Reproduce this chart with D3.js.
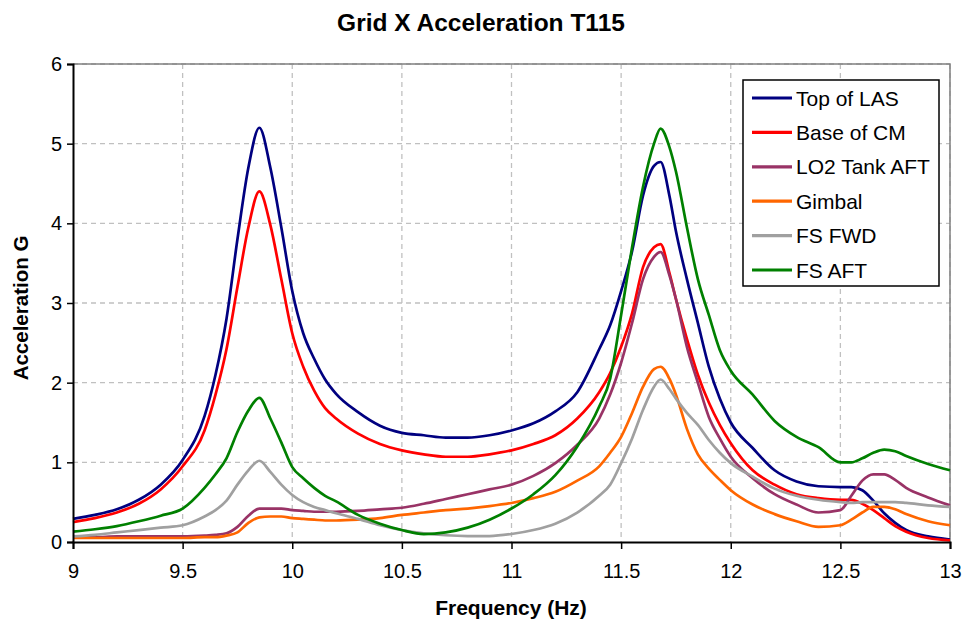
<!DOCTYPE html>
<html>
<head>
<meta charset="utf-8">
<script src="https://cdn.jsdelivr.net/npm/d3@7"></script>
<style>
  body { margin: 0; background: #fff; }
  svg { display: block; font-family: "Liberation Sans", Arial, sans-serif; }
</style>
</head>
<body>
<svg id="svg" width="962" height="622"></svg>
<script>
// frequency samples (Hz), shared by all series
const freq = [9.0, 9.1, 9.2, 9.3, 9.4, 9.5, 9.6, 9.65, 9.7, 9.75, 9.8, 9.85, 9.9, 9.95,
    10.0, 10.05, 10.1, 10.15, 10.2, 10.3, 10.4, 10.5, 10.6, 10.7, 10.8, 10.9,
    11.0, 11.1, 11.2, 11.3, 11.4, 11.45, 11.5, 11.55, 11.6, 11.65, 11.68, 11.72,
    11.75, 11.8, 11.85, 11.9, 11.95, 12.0, 12.1, 12.2, 12.3, 12.4, 12.5, 12.55,
    12.6, 12.65, 12.7, 12.75, 12.8, 12.9, 13.0];

const topOfLAS = [0.29, 0.34, 0.41, 0.53, 0.72, 1.03, 1.58, 2.1, 2.8, 3.8, 4.7, 5.2, 4.7, 3.95,
    3.15, 2.62, 2.3, 2.04, 1.86, 1.63, 1.46, 1.37, 1.34, 1.31, 1.31, 1.34,
    1.40, 1.49, 1.64, 1.88, 2.42, 2.72, 3.15, 3.65, 4.35, 4.72, 4.77, 4.35,
    3.9, 3.3, 2.75, 2.2, 1.8, 1.5, 1.18, 0.9, 0.76, 0.70, 0.69, 0.69,
    0.65, 0.52, 0.36, 0.24, 0.15, 0.07, 0.03];

const baseOfCM = [0.25, 0.30, 0.37, 0.48, 0.66, 0.95, 1.40, 1.85, 2.42, 3.2, 3.95, 4.40, 3.98, 3.3,
    2.62, 2.2, 1.9, 1.68, 1.55, 1.36, 1.23, 1.15, 1.10, 1.07, 1.07, 1.10,
    1.15, 1.23, 1.34, 1.55, 1.88, 2.12, 2.45, 2.87, 3.45, 3.70, 3.74, 3.38,
    3.05, 2.55, 2.1, 1.75, 1.47, 1.24, 0.90, 0.72, 0.60, 0.55, 0.53, 0.53,
    0.48, 0.40, 0.30, 0.20, 0.13, 0.05, 0.02];

const lo2TankAft = [0.06, 0.06, 0.07, 0.07, 0.07, 0.07, 0.08, 0.09, 0.11, 0.19, 0.33, 0.42, 0.42, 0.42,
    0.40, 0.39, 0.38, 0.38, 0.38, 0.39, 0.41, 0.43, 0.48, 0.54, 0.60, 0.66,
    0.72, 0.83, 0.99, 1.22, 1.55, 1.85, 2.25, 2.75, 3.30, 3.58, 3.64, 3.35,
    3.05, 2.45, 2.0, 1.57, 1.30, 1.07, 0.80, 0.60, 0.47, 0.37, 0.40, 0.58,
    0.77, 0.85, 0.85, 0.78, 0.68, 0.56, 0.46];

const gimbal = [0.05, 0.05, 0.05, 0.05, 0.05, 0.05, 0.06, 0.06, 0.08, 0.12, 0.24, 0.31, 0.32, 0.32,
    0.30, 0.29, 0.28, 0.27, 0.27, 0.28, 0.30, 0.34, 0.37, 0.40, 0.42, 0.45,
    0.49, 0.55, 0.63, 0.77, 0.95, 1.12, 1.32, 1.62, 1.95, 2.17, 2.2, 2.05,
    1.85, 1.42, 1.1, 0.92, 0.78, 0.65, 0.47, 0.35, 0.26, 0.19, 0.21, 0.28,
    0.37, 0.44, 0.44, 0.41, 0.35, 0.26, 0.21];

const fsFwd = [0.07, 0.09, 0.12, 0.15, 0.18, 0.21, 0.32, 0.40, 0.52, 0.72, 0.90, 1.02, 0.88, 0.72,
    0.59, 0.50, 0.44, 0.40, 0.36, 0.29, 0.21, 0.15, 0.11, 0.085, 0.075, 0.075,
    0.10, 0.15, 0.23, 0.37, 0.58, 0.72, 0.99, 1.3, 1.66, 1.95, 2.04, 1.92,
    1.80, 1.62, 1.47, 1.28, 1.12, 0.99, 0.82, 0.67, 0.58, 0.53, 0.50, 0.49,
    0.50, 0.50, 0.50, 0.50, 0.49, 0.46, 0.44];

const fsAft = [0.13, 0.16, 0.20, 0.26, 0.33, 0.42, 0.68, 0.85, 1.05, 1.38, 1.65, 1.81, 1.55, 1.25,
    0.94, 0.80, 0.68, 0.58, 0.51, 0.34, 0.23, 0.15, 0.10, 0.12, 0.18, 0.28,
    0.42, 0.60, 0.84, 1.20, 1.70, 2.05, 2.85, 3.7, 4.46, 5.0, 5.19, 4.96,
    4.65, 3.95, 3.3, 2.85, 2.41, 2.15, 1.85, 1.52, 1.32, 1.19, 1.00, 1.00,
    1.05, 1.12, 1.16, 1.14, 1.08, 0.98, 0.90];

const seriesNames = ["Top of LAS", "Base of CM", "LO2 Tank AFT", "Gimbal", "FS FWD", "FS AFT"];
const seriesValues = [topOfLAS, baseOfCM, lo2TankAft, gimbal, fsFwd, fsAft];
const seriesColors = ["#000080", "#ff0000", "#993366", "#ff6600", "#a0a0a0", "#008000"];

const xTicks = [9, 9.5, 10, 10.5, 11, 11.5, 12, 12.5, 13];
const yTicks = [0, 1, 2, 3, 4, 5, 6];

const plotLeft = 73, plotRight = 950, plotTop = 64, plotBottom = 542;

const svg = d3.select("#svg");

const x = d3.scaleLinear().domain([9, 13]).range([plotLeft, plotRight]);
const y = d3.scaleLinear().domain([0, 6]).range([plotBottom, plotTop]);

// grid
const grid = svg.append("g");
grid.selectAll(".hg").data(yTicks.slice(1)).enter().append("line")
    .attr("x1", plotLeft).attr("x2", plotRight)
    .attr("y1", d => y(d)).attr("y2", d => y(d))
    .style("stroke", "#c0c0c0").style("stroke-width", 1.3)
    .style("stroke-dasharray", "5,4");
grid.selectAll(".vg").data(xTicks.slice(1)).enter().append("line")
    .attr("x1", d => x(d)).attr("x2", d => x(d))
    .attr("y1", plotTop).attr("y2", plotBottom)
    .style("stroke", "#c0c0c0").style("stroke-width", 1.3)
    .style("stroke-dasharray", "5,4");

// plot border (top/right grey)
svg.append("path")
    .attr("d", `M${plotLeft},${plotTop}H${plotRight}V${plotBottom}`)
    .style("fill", "none").style("stroke", "#808080").style("stroke-width", 1.5);

// series
const line = d3.line()
    .x((d, i) => x(freq[i]))
    .y(d => y(d))
    .curve(d3.curveMonotoneX);

svg.append("g").selectAll("path").data(seriesValues).enter().append("path")
    .attr("d", line)
    .style("fill", "none")
    .style("stroke", (d, i) => seriesColors[i])
    .style("stroke-width", 2.7)
    .style("stroke-linejoin", "round");

// axes
const xAxis = svg.append("g")
    .attr("transform", `translate(0,${plotBottom})`)
    .call(d3.axisBottom(x).tickValues(xTicks).tickFormat(d3.format("")).tickSize(7).tickPadding(15));
const yAxis = svg.append("g")
    .attr("transform", `translate(${plotLeft},0)`)
    .call(d3.axisLeft(y).tickValues(yTicks).tickFormat(d3.format("d")).tickSize(6).tickPadding(5));

[xAxis, yAxis].forEach(a => {
    a.select(".domain").style("stroke", "#000").style("stroke-width", 2);
    a.selectAll(".tick line").style("stroke", "#000").style("stroke-width", 1.5);
    a.selectAll("text").style("font-size", "20px").style("fill", "#000")
        .style("font-family", "'Liberation Sans', Arial, sans-serif");
});

// titles
svg.append("text")
    .attr("x", 481).attr("y", 31)
    .attr("text-anchor", "middle")
    .style("font-size", "24.5px").style("font-weight", "bold")
    .text("Grid X Acceleration T115");

svg.append("text")
    .attr("x", 511).attr("y", 615)
    .attr("text-anchor", "middle")
    .style("font-size", "21px").style("font-weight", "bold")
    .text("Frequency (Hz)");

svg.append("text")
    .attr("transform", "translate(28,308) rotate(-90)")
    .attr("text-anchor", "middle")
    .style("font-size", "20.5px").style("font-weight", "bold")
    .text("Acceleration G");

// legend
const legend = svg.append("g").attr("transform", "translate(743,80)");
legend.append("rect")
    .attr("width", 196).attr("height", 206)
    .style("fill", "#fff").style("stroke", "#000").style("stroke-width", 1.5);

const item = legend.selectAll(".item").data(seriesNames).enter().append("g")
    .attr("transform", (d, i) => `translate(0,${18 + i * 34.4})`);
item.append("line")
    .attr("x1", 9).attr("x2", 49)
    .style("stroke", (d, i) => seriesColors[i])
    .style("stroke-width", 3.2);
item.append("text")
    .attr("x", 53).attr("y", 7.5)
    .style("font-size", "21px")
    .text(d => d);
</script>
</body>
</html>
